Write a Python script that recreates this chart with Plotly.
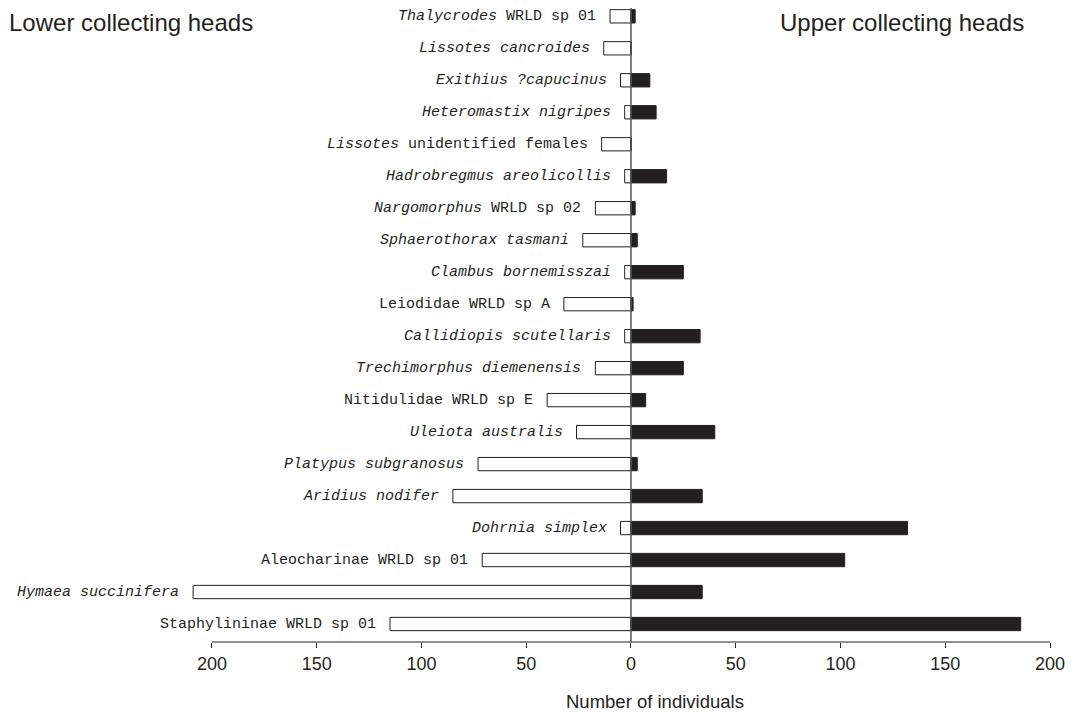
import plotly.graph_objects as go

# Data (top to bottom as in the chart)
species = [
    "<i>Thalycrodes</i> WRLD sp 01",
    "<i>Lissotes cancroides</i>",
    "<i>Exithius ?capucinus</i>",
    "<i>Heteromastix nigripes</i>",
    "<i>Lissotes</i> unidentified females",
    "<i>Hadrobregmus areolicollis</i>",
    "<i>Nargomorphus</i> WRLD sp 02",
    "<i>Sphaerothorax tasmani</i>",
    "<i>Clambus bornemisszai</i>",
    "Leiodidae WRLD sp A",
    "<i>Callidiopis scutellaris</i>",
    "<i>Trechimorphus diemenensis</i>",
    "Nitidulidae WRLD sp E",
    "<i>Uleiota australis</i>",
    "<i>Platypus subgranosus</i>",
    "<i>Aridius nodifer</i>",
    "<i>Dohrnia simplex</i>",
    "Aleocharinae WRLD sp 01",
    "<i>Hymaea succinifera</i>",
    "Staphylininae WRLD sp 01",
]
lower_heads = [10, 13, 5, 3, 14, 3, 17, 23, 3, 32, 3, 17, 40, 26, 73, 85, 5, 71, 209, 115]
upper_heads = [2, 0, 9, 12, 0, 17, 2, 3, 25, 1, 33, 25, 7, 40, 3, 34, 132, 102, 34, 186]

tick_vals = [-200, -150, -100, -50, 0, 50, 100, 150, 200]
tick_text = ["200", "150", "100", "50", "0", "50", "100", "150", "200"]

n = len(species)
rows = [n - 1 - i for i in range(n)]  # top row gets highest y

INK = "#231f20"

fig = go.Figure()
fig.add_trace(go.Bar(
    y=rows, x=[-v for v in lower_heads], orientation="h", width=0.416,
    marker=dict(color="white", line=dict(color=INK, width=1)),
    name="Lower collecting heads", showlegend=False, hoverinfo="skip",
))
fig.add_trace(go.Bar(
    y=rows, x=upper_heads, orientation="h", width=0.416,
    marker=dict(color=INK, line=dict(color=INK, width=1)),
    name="Upper collecting heads", showlegend=False, hoverinfo="skip",
))

# page is shown with an 8px body margin; work in page pixels and convert
OFF = 8
W, H = 1080 - OFF, 712 - OFF
L, R, T, B = 191 - OFF, 30, 0, 70
pw, ph = W - L - R, H - T - B


def px_to_paper_x(x):
    return (x - OFF - L) / pw


def px_to_paper_y(y):
    return (H - B - (y - OFF)) / ph


annotations = []
for s, r, v in zip(species, rows, lower_heads):
    annotations.append(dict(
        x=-v, y=r, xref="x", yref="y", text=s, showarrow=False,
        xanchor="right", yanchor="middle", xshift=-12,
        font=dict(family="Liberation Mono", size=15, color=INK),
    ))

annotations.append(dict(
    x=px_to_paper_x(8), y=px_to_paper_y(8), xref="paper", yref="paper",
    text="Lower collecting heads", showarrow=False, xanchor="left", yanchor="top",
    borderpad=0, font=dict(family="Liberation Sans", size=24, color=INK),
))
annotations.append(dict(
    x=px_to_paper_x(1025), y=px_to_paper_y(8), xref="paper", yref="paper",
    text="Upper collecting heads", showarrow=False, xanchor="right", yanchor="top",
    borderpad=0, font=dict(family="Liberation Sans", size=24, color=INK),
))
annotations.append(dict(
    x=px_to_paper_x(655), y=px_to_paper_y(701), xref="paper", yref="paper",
    text="Number of individuals", showarrow=False, xanchor="center", yanchor="middle",
    font=dict(family="Liberation Sans", size=18.5, color=INK),
))

shapes = [
    dict(type="line", xref="x", yref="paper", x0=-200, x1=200, y0=0, y1=0,
         line=dict(color=INK, width=1.2), layer="above"),
    dict(type="line", xref="x", yref="paper", x0=0, x1=0, y0=0, y1=1,
         line=dict(color="#555555", width=1.5), layer="above"),
]

fig.update_layout(
    width=W, height=H, barmode="relative",
    margin=dict(l=L, r=R, t=T, b=B, pad=0),
    paper_bgcolor="white", plot_bgcolor="white",
    annotations=annotations, shapes=shapes,
    font=dict(family="Liberation Sans", color=INK),
)
fig.update_xaxes(
    range=[-210, 200], tickvals=tick_vals, ticktext=tick_text,
    showgrid=False, zeroline=False, showline=False,
    ticks="outside", ticklen=5, tickwidth=1.2, tickcolor=INK,
    tickfont=dict(family="Liberation Sans", size=18, color=INK),
)
# plot top sits at page y=8, axis at page y~642, bottom row centre at ~624
fig.update_yaxes(
    range=[-0.5625, 19.26], showticklabels=False, showgrid=False,
    zeroline=False, showline=False, ticks="",
)

fig.write_html("out.html")
